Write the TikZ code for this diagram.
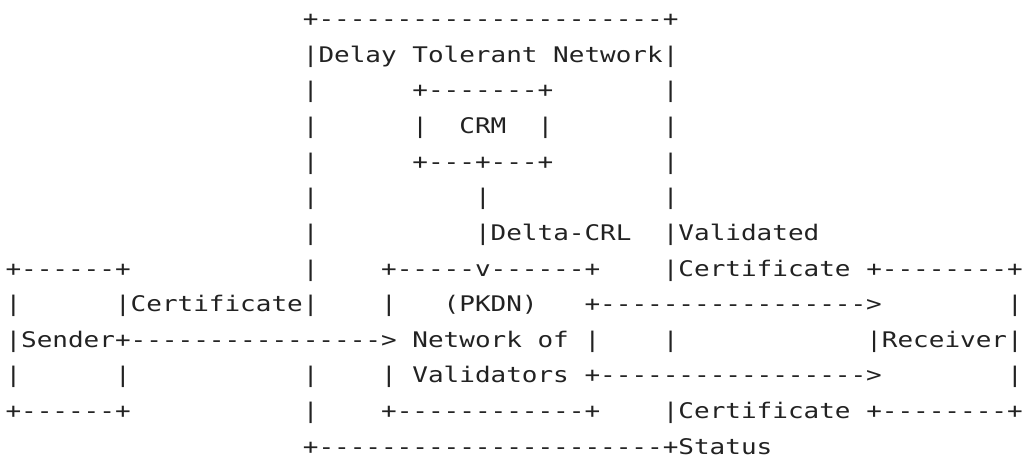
\documentclass[tikz,border=0pt]{standalone}
\usepackage{fontspec}
\setmonofont{DejaVu Sans Mono}[FakeStretch=1.2091]
\definecolor{ink}{HTML}{222222}
\newcommand\seg[3]{\node[txt] (s#1-#2) at ({5.5+#2*15.65},{458-26.7-#1*35.63}) {#3};}
\begin{document}
\begin{tikzpicture}[x=1pt,y=1pt,
  txt/.style={anchor=base west,inner sep=0pt,outer sep=0pt,text=ink,
    font=\ttfamily\fontsize{21.5pt}{21.5pt}\selectfont}]
\useasboundingbox (0,0) rectangle (1023,458);
% row 0
\seg{0}{19}{+----------------------+}
% row 1
\seg{1}{19}{|Delay Tolerant Network|}
% row 2
\seg{2}{19}{|}\seg{2}{26}{+-------+}\seg{2}{42}{|}
% row 3
\seg{3}{19}{|}\seg{3}{26}{|}\seg{3}{29}{CRM}\seg{3}{34}{|}\seg{3}{42}{|}
% row 4
\seg{4}{19}{|}\seg{4}{26}{+---+---+}\seg{4}{42}{|}
% row 5
\seg{5}{19}{|}\seg{5}{30}{|}\seg{5}{42}{|}
% row 6
\seg{6}{19}{|}\seg{6}{30}{|Delta-CRL}\seg{6}{42}{|Validated}
% row 7
\seg{7}{0}{+------+}\seg{7}{19}{|}\seg{7}{24}{+-----v------+}\seg{7}{42}{|Certificate +--------+}
% row 8
\seg{8}{0}{|}\seg{8}{7}{|Certificate|}\seg{8}{24}{|}\seg{8}{28}{(PKDN)}\seg{8}{37}{+----------------->}\seg{8}{64}{|}
% row 9
\seg{9}{0}{|Sender+---------------->}\seg{9}{26}{Network of}\seg{9}{37}{|}\seg{9}{42}{|}\seg{9}{55}{|Receiver|}
% row 10
\seg{10}{0}{|}\seg{10}{7}{|}\seg{10}{19}{|}\seg{10}{24}{|}\seg{10}{26}{Validators}\seg{10}{37}{+----------------->}\seg{10}{64}{|}
% row 11
\seg{11}{0}{+------+}\seg{11}{19}{|}\seg{11}{24}{+------------+}\seg{11}{42}{|Certificate +--------+}
% row 12
\seg{12}{19}{+----------------------+Status}
\end{tikzpicture}
\end{document}
